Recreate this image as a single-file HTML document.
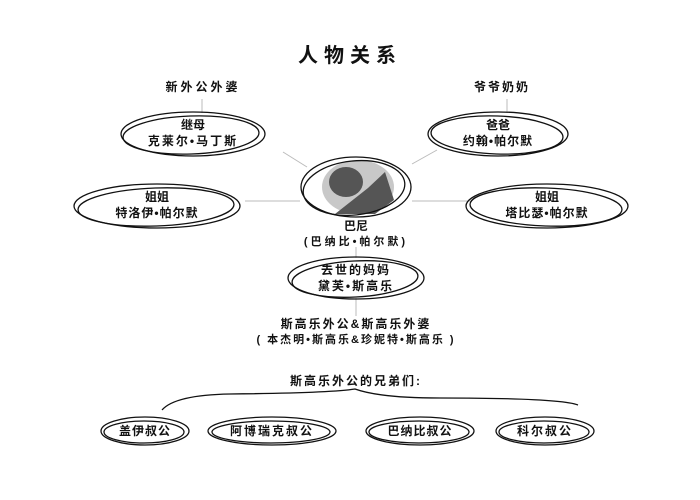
<!DOCTYPE html>
<html><head><meta charset="utf-8"><style>
html,body{margin:0;padding:0;background:#fff;}
svg{display:block;}
text{font-family:"Liberation Sans","WenQuanYi Zen Hei","Noto Sans CJK SC",sans-serif;fill:#111;text-anchor:middle;font-weight:bold;}
.e{fill:none;stroke:#111;stroke-width:1.3;}
.l{stroke:#bbb;stroke-width:1;}
</style></head><body>
<svg width="700" height="500" viewBox="0 0 700 500">
<text x="350" y="62" font-size="20" letter-spacing="6">人物关系</text>
<text x="203" y="91" font-size="12" letter-spacing="3">新外公外婆</text>
<text x="502" y="91" font-size="12" letter-spacing="2">爷爷奶奶</text>
<line class="l" x1="202" y1="99" x2="202" y2="113"/>
<line class="l" x1="507" y1="99" x2="507" y2="113"/>
<line class="l" x1="283" y1="152" x2="307" y2="167"/>
<line class="l" x1="412" y1="164" x2="437" y2="150"/>
<line class="l" x1="245" y1="201" x2="300" y2="201"/>
<line class="l" x1="412" y1="201" x2="470" y2="201"/>
<line class="l" x1="356" y1="247" x2="356" y2="258"/>
<line class="l" x1="356" y1="298" x2="356" y2="316"/>
<!-- 继母 -->
<ellipse class="e" cx="193" cy="134" rx="72" ry="22"/>
<ellipse class="e" cx="191" cy="135" rx="68" ry="19" transform="rotate(-2 191 135)"/>
<text x="193" y="129" font-size="12">继母</text>
<text x="193" y="145" font-size="12" letter-spacing="2">克莱尔•马丁斯</text>
<!-- 爸爸 -->
<ellipse class="e" cx="498" cy="134" rx="70" ry="22"/>
<ellipse class="e" cx="497" cy="135" rx="66" ry="19" transform="rotate(2 497 135)"/>
<text x="498" y="129" font-size="12">爸爸</text>
<text x="498" y="145" font-size="12" letter-spacing="1">约翰•帕尔默</text>
<!-- 姐姐 left -->
<ellipse class="e" cx="157" cy="206" rx="83" ry="22"/>
<ellipse class="e" cx="156" cy="207" rx="78" ry="19" transform="rotate(-2 156 207)"/>
<text x="157" y="201" font-size="12">姐姐</text>
<text x="157" y="217" font-size="12" letter-spacing="1">特洛伊•帕尔默</text>
<!-- 姐姐 right -->
<ellipse class="e" cx="547" cy="206" rx="81" ry="22"/>
<ellipse class="e" cx="546" cy="207" rx="76" ry="19" transform="rotate(2 546 207)"/>
<text x="547" y="201" font-size="12">姐姐</text>
<text x="547" y="217" font-size="12" letter-spacing="1">塔比瑟•帕尔默</text>
<!-- center -->
<ellipse cx="358" cy="187" rx="36" ry="27" fill="#c8c8c8"/>
<ellipse cx="346" cy="182" rx="17" ry="15" fill="#555"/>
<path d="M335 214 L368 188 L385 172 L394 200 L375 214Z" fill="#555"/>
<ellipse class="e" cx="356" cy="187" rx="55" ry="30"/>
<ellipse class="e" cx="354" cy="188" rx="51" ry="27" transform="rotate(-6 354 188)"/>
<text x="356" y="230" font-size="12">巴尼</text>
<text x="356" y="245" font-size="11" letter-spacing="3">(巴纳比•帕尔默)</text>
<!-- mother -->
<ellipse class="e" cx="356" cy="278" rx="68" ry="21"/>
<ellipse class="e" cx="355" cy="279" rx="63" ry="18" transform="rotate(-3 355 279)"/>
<text x="356" y="274" font-size="12" letter-spacing="2">去世的妈妈</text>
<text x="356" y="290" font-size="12" letter-spacing="2">黛芙•斯高乐</text>
<text x="356" y="328" font-size="12" letter-spacing="2">斯高乐外公&amp;斯高乐外婆</text>
<text x="356" y="343" font-size="11" letter-spacing="2">( 本杰明•斯高乐&amp;珍妮特•斯高乐 )</text>
<text x="356" y="385" font-size="12" letter-spacing="2">斯高乐外公的兄弟们:</text>
<path d="M162 410 Q175 395 230 394 Q330 393 355 389 Q380 398 440 398 Q560 398 578 405" fill="none" stroke="#111" stroke-width="1.3"/>
<!-- bottom -->
<ellipse class="e" cx="145" cy="431" rx="44" ry="14"/>
<ellipse class="e" cx="144" cy="432" rx="40" ry="11"/>
<text x="145" y="435" font-size="12" letter-spacing="1">盖伊叔公</text>
<ellipse class="e" cx="272" cy="431" rx="64" ry="14"/>
<ellipse class="e" cx="271" cy="432" rx="59" ry="11"/>
<text x="272" y="435" font-size="12" letter-spacing="2">阿博瑞克叔公</text>
<ellipse class="e" cx="420" cy="431" rx="54" ry="14"/>
<ellipse class="e" cx="419" cy="432" rx="50" ry="11"/>
<text x="420" y="435" font-size="12" letter-spacing="1">巴纳比叔公</text>
<ellipse class="e" cx="545" cy="431" rx="49" ry="14"/>
<ellipse class="e" cx="544" cy="432" rx="45" ry="11"/>
<text x="545" y="435" font-size="12" letter-spacing="2">科尔叔公</text>
</svg>
</body></html>
